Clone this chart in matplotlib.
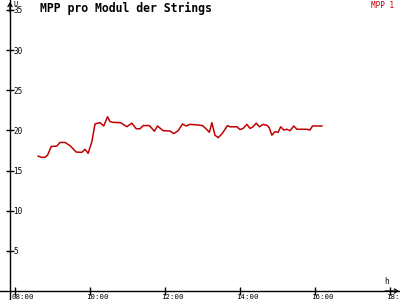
import matplotlib
matplotlib.use("Agg")
import matplotlib.pyplot as plt

times = ["08:37", "08:42", "08:48", "08:52", "08:58", "09:07", "09:12", "09:20", "09:28", "09:38",
         "09:47", "09:52", "09:57", "10:03", "10:08", "10:16", "10:22", "10:28", "10:32", "10:37",
         "10:49", "10:59", "11:07", "11:14", "11:20", "11:25", "11:35", "11:43", "11:48", "11:57",
         "12:08", "12:14", "12:21", "12:28", "12:34", "12:40", "12:50", "13:00", "13:07", "13:11",
         "13:15", "13:20", "13:25", "13:31", "13:40", "13:44", "13:55", "14:00", "14:05", "14:11",
         "14:16", "14:20", "14:26", "14:31", "14:37", "14:44", "14:47", "14:51", "14:56", "15:01",
         "15:05", "15:10", "15:15", "15:20", "15:26", "15:31", "15:46", "15:52", "15:56", "16:11"]
values = [16.8, 16.65, 16.65, 16.9, 18.0, 18.05, 18.5, 18.5, 18.1, 17.3,
          17.27, 17.65, 17.15, 18.6, 20.8, 20.96, 20.55, 21.7, 21.1, 21.0,
          20.96, 20.46, 20.9, 20.2, 20.2, 20.6, 20.6, 19.9, 20.55, 19.96,
          19.93, 19.6, 19.96, 20.8, 20.55, 20.75, 20.7, 20.6, 20.1, 19.76,
          20.96, 19.4, 19.1, 19.55, 20.6, 20.45, 20.45, 20.1, 20.25, 20.75,
          20.25, 20.4, 20.9, 20.45, 20.75, 20.6, 20.3, 19.4, 19.85, 19.76,
          20.45, 20.05, 20.14, 19.96, 20.55, 20.14, 20.14, 20.05, 20.55, 20.55]
x_tick_labels = ["08:00", "10:00", "12:00", "14:00", "16:00", "18:00"]
y_ticks = [5, 10, 15, 20, 25, 30, 35]
title = "MPP pro Modul der Strings"
series_name = "MPP 1"
x_unit = "h"
y_unit = "U"


def to_hours(s):
    h, m = s.split(":")
    return int(h) + int(m) / 60.0


xs = [to_hours(t) for t in times]
xt = [to_hours(t) for t in x_tick_labels]

mono = "DejaVu Sans Mono"
red = "#c00000"

fig = plt.figure(figsize=(4, 3), dpi=100)
ax = fig.add_axes([0, 0, 1, 1])
ax.set_facecolor("white")

# pixel mapping: 08:00 at x=15, 37.5 px/h ; value 0 at y=291, 8.03 px/unit
x_left = 8 - 15 / 37.5
x_right = 8 + 385 / 37.5
y_bot = (291 - 300) / 8.03
y_top = 291 / 8.03
ax.set_xlim(x_left, x_right)
ax.set_ylim(y_bot, y_top)

x_axis_pos = 8 - 5 / 37.5
for s in ["top", "right"]:
    ax.spines[s].set_visible(False)
ax.spines["left"].set_position(("data", x_axis_pos))
ax.spines["bottom"].set_position(("data", 0))
ax.spines["left"].set_linewidth(1)
ax.spines["bottom"].set_linewidth(1)

ax.set_xticks(xt)
ax.set_yticks(y_ticks)
ax.tick_params(direction="inout", length=6, width=1, labelleft=False, labelbottom=False)

# arrow heads
arrow = dict(arrowstyle="->,head_length=0.25,head_width=0.15", lw=0.9, color="black",
             shrinkA=0, shrinkB=0)
ax.annotate("", xy=(x_axis_pos, (291 - 2) / 8.03), xytext=(x_axis_pos, (291 - 12) / 8.03),
            arrowprops=arrow)
ax.annotate("", xy=(8 + 384 / 37.5, 0), xytext=(8 + 370 / 37.5, 0), arrowprops=arrow)

for v in y_ticks:
    ax.annotate(str(v), xy=(x_axis_pos, v), xytext=(3, -1), textcoords="offset pixels",
                ha="left", va="center", fontsize=5.5, family=mono)
for x, lab in zip(xt, x_tick_labels):
    ax.annotate(lab, xy=(x, 0), xytext=(-4, -3), textcoords="offset pixels",
                ha="left", va="top", fontsize=5.3, family=mono)

ax.plot(xs, values, color=red, lw=1.1)

fig.text(40 / 400, 1 - 8 / 300, title, fontsize=8.3, fontweight="bold", family=mono,
         ha="left", va="center")
fig.text(394 / 400, 1 - 5 / 300, series_name, fontsize=5.5, family=mono, color=red,
         ha="right", va="center")
fig.text(384 / 400, 1 - 281 / 300, x_unit, fontsize=5.5, family=mono, ha="left", va="center")
fig.text(13 / 400, 1 - 4 / 300, y_unit, fontsize=5, family=mono, ha="left", va="center")

fig.savefig("out.png", dpi=100)
